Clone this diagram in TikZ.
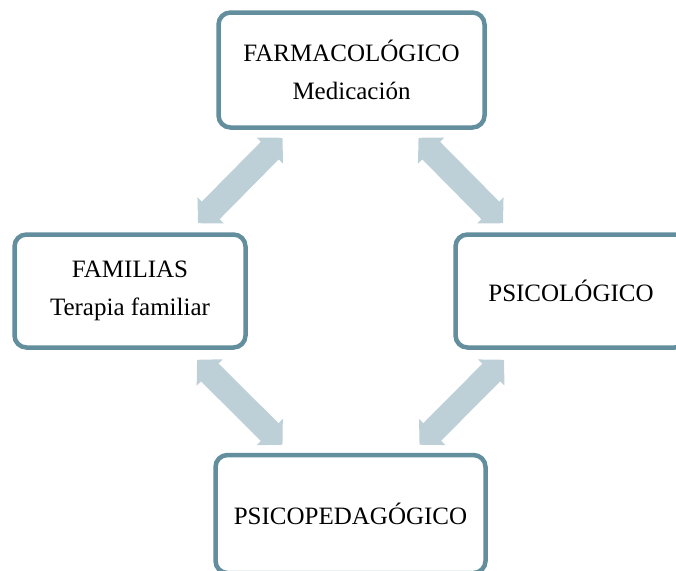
\documentclass[tikz,border=0pt]{standalone}
\usepackage{fontspec}
\setmainfont{Liberation Serif}
\usetikzlibrary{arrows.meta}
\definecolor{borde}{RGB}{99,142,157}
\definecolor{flechagris}{RGB}{189,207,215}

\begin{document}
\begin{tikzpicture}[x=1pt,y=-1pt,
	caja/.style={
		draw=borde, % borde de todas las cajas
		line width=4.5pt,
		rounded corners=12pt,
		fill=white,
		align=center,
		font=\fontsize{25}{38}\selectfont,
		minimum width=231pt,
		minimum height=113pt,
	},
	flecha/.style={
		{Triangle[width=36pt,length=18pt]}-{Triangle[width=36pt,length=18pt]},
		draw=flechagris,
		line width=25pt,
	},
]
	\useasboundingbox (0,0) rectangle (676,570);
	\clip (0,0) rectangle (676,570);

	\node[caja,minimum width=266pt,minimum height=115pt] (farma) at (351.5,70) {FARMACOLÓGICO\\Medicación};
	\node[caja] (familias) at (130,291) {FAMILIAS\\Terapia familiar};
	\node[caja] (psico) at (571,291) {PSICOLÓGICO};
	\node[caja,minimum width=270pt,minimum height=118pt] (psicoped) at (350.5,514) {PSICOPEDAGÓGICO};

	\draw[flecha] ([xshift=68pt,yshift=9pt]familias.north) -- ([xshift=-69pt,yshift=-8pt]farma.south);
	\draw[flecha] ([xshift=67pt,yshift=-8pt]farma.south) -- ([xshift=-68pt,yshift=9pt]psico.north);
	\draw[flecha] ([xshift=67pt,yshift=-10pt]familias.south) -- ([xshift=-68pt,yshift=8pt]psicoped.north);
	\draw[flecha] ([xshift=-67pt,yshift=-10pt]psico.south) -- ([xshift=69pt,yshift=8pt]psicoped.north);

\end{tikzpicture}
\end{document}
